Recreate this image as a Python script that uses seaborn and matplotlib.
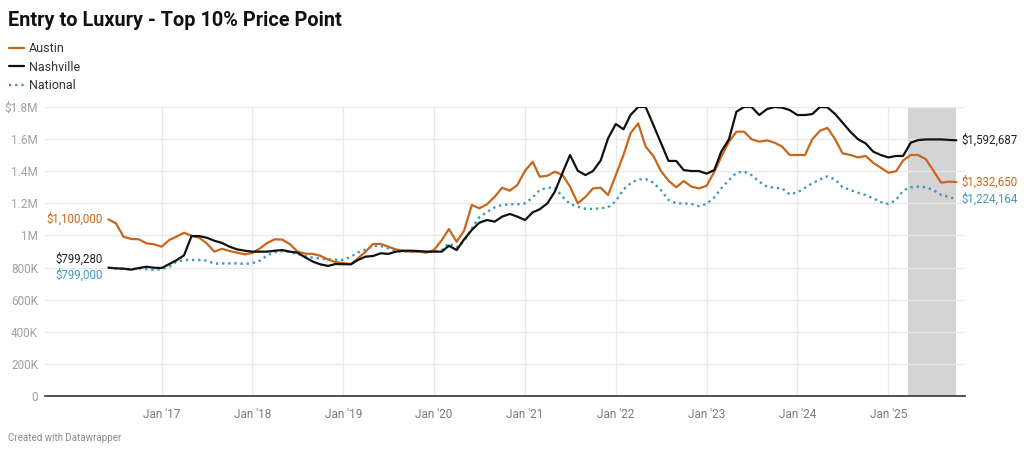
import pandas as pd
import numpy as np
import matplotlib
matplotlib.use('Agg')
import matplotlib.pyplot as plt
import seaborn as sns

# Monthly values (thousands of $), Jun 2016 - Oct 2025
austin = [1100, 1076, 992, 978, 976, 951, 945,
          930, 972, 992, 1017, 998, 986, 951, 899, 917, 903, 893, 882,
          891, 920, 953, 976, 974, 945, 899, 887, 885, 873, 850, 834,
          828, 822, 857, 899, 947, 947, 930, 913, 903, 899, 899, 893,
          910, 970, 1040, 961, 1030, 1190, 1169, 1194, 1241, 1297, 1279, 1314,
          1403, 1459, 1366, 1372, 1397, 1376, 1304, 1200, 1240, 1293, 1297, 1252,
          1376, 1501, 1636, 1698, 1553, 1495, 1403, 1341, 1300, 1339, 1304, 1293,
          1309, 1397, 1490, 1584, 1646, 1646, 1599, 1584, 1592, 1578, 1553, 1501,
          1501, 1501, 1599, 1652, 1670, 1599, 1511, 1501, 1486, 1495, 1453, 1422,
          1391, 1400, 1466, 1501, 1501, 1474, 1403, 1329, 1335, 1332.650]
nashville = [799.280, 795, 793, 787, 797, 805, 799,
             797, 822, 845, 876, 996, 996, 986, 967, 953, 930, 913, 905,
             899, 899, 899, 905, 909, 899, 893, 864, 837, 820, 810, 822,
             821, 820, 847, 868, 872, 889, 885, 899, 905, 905, 903, 899,
             899, 899, 936, 909, 975, 1034, 1079, 1096, 1086, 1117, 1134, 1117,
             1096, 1144, 1163, 1200, 1273, 1391, 1501, 1403, 1376, 1401, 1466, 1605,
             1694, 1661, 1750, 1800, 1800, 1688, 1578, 1464, 1464, 1407, 1401, 1401,
             1385, 1407, 1522, 1599, 1771, 1800, 1800, 1750, 1787, 1800, 1796, 1781,
             1750, 1750, 1756, 1800, 1798, 1756, 1702, 1646, 1599, 1574, 1522, 1501,
             1486, 1495, 1495, 1578, 1594, 1598, 1598, 1598, 1595, 1592.687]
national = [799, 795, 792, 790, 795, 790, 785,
            790, 805, 836, 847, 847, 847, 843, 824, 826, 826, 826, 822,
            828, 843, 876, 896, 902, 897, 884, 871, 862, 856, 852, 849,
            847, 868, 893, 913, 934, 934, 920, 905, 899, 899, 899, 899,
            899, 909, 951, 926, 965, 1044, 1113, 1146, 1175, 1190, 1194, 1194,
            1200, 1237, 1283, 1297, 1297, 1241, 1196, 1179, 1166, 1165, 1169, 1175,
            1214, 1287, 1325, 1349, 1351, 1329, 1283, 1221, 1200, 1200, 1196, 1183,
            1196, 1237, 1293, 1345, 1391, 1397, 1376, 1335, 1304, 1297, 1293, 1256,
            1268, 1297, 1325, 1349, 1368, 1349, 1300, 1283, 1266, 1252, 1231, 1208,
            1196, 1221, 1279, 1300, 1304, 1300, 1283, 1252, 1241, 1224.164]
dates = pd.date_range('2016-06-01', periods=len(austin), freq='MS')

y_ticks = [0, 200e3, 400e3, 600e3, 800e3, 1e6, 1.2e6, 1.4e6, 1.6e6, 1.8e6]
y_labels = ['0', '200K', '400K', '600K', '800K', '1M', '1.2M', '1.4M', '1.6M', '$1.8M']
x_years = list(range(2017, 2026))
x_labels = ["Jan '%02d" % (y % 100) for y in x_years]

c_austin = '#c7661c'
c_nash = '#111111'
c_nat = '#3c9bba'

df = pd.DataFrame({'date': dates,
                   'Austin': np.array(austin) * 1000,
                   'Nashville': np.array(nashville) * 1000,
                   'National': np.array(national) * 1000})

sns.set_style('white')
plt.rcParams['font.family'] = ['Roboto', 'DejaVu Sans']

fig = plt.figure(figsize=(10.24, 4.55), dpi=100)
ax = fig.add_axes([45 / 1024, 59 / 455, 920 / 1024, 289 / 455])

# highlighted range
ax.axvspan(pd.Timestamp('2025-03-20'), dates[-1], color='#d4d4d4', lw=0, zorder=0)

sns.lineplot(data=df, x='date', y='Austin', ax=ax, color=c_austin, lw=1.6, label='Austin', zorder=3)
sns.lineplot(data=df, x='date', y='Nashville', ax=ax, color=c_nash, lw=1.6, label='Nashville', zorder=4)
sns.lineplot(data=df, x='date', y='National', ax=ax, color=c_nat, lw=1.7,
             linestyle=(0, (1, 1.6)), label='National', zorder=2)

ax.set_xlim(pd.Timestamp('2015-09-20'), pd.Timestamp('2025-11-05'))
ax.set_ylim(0, 1.8e6)
ax.set_yticks(y_ticks)
ax.set_yticklabels(y_labels)
ax.set_xticks([pd.Timestamp(f'{y}-01-01') for y in x_years])
ax.set_xticklabels(x_labels)
ax.tick_params(axis='both', length=0, labelsize=8.5, labelcolor='#a0a0a0')
ax.tick_params(axis='x', pad=9, labelcolor='#7a7a7a')
ax.tick_params(axis='y', pad=5)
ax.grid(True, color='#e8e8e8', lw=0.9, zorder=0)
ax.set_axisbelow(True)
for s in ['top', 'right', 'left']:
    ax.spines[s].set_visible(False)
ax.spines['bottom'].set_color('#333333')
ax.spines['bottom'].set_linewidth(1.2)
ax.set_xlabel('')
ax.set_ylabel('')

# start / end labels
fs = 8.3
ax.annotate('$1,100,000', (dates[0], austin[0] * 1000), xytext=(-4, 0), textcoords='offset points',
            ha='right', va='center', color=c_austin, fontsize=fs)
ax.annotate('$799,280', (dates[0], nashville[0] * 1000), xytext=(-4, 6), textcoords='offset points',
            ha='right', va='center', color='#222222', fontsize=fs)
ax.annotate('$799,000', (dates[0], national[0] * 1000), xytext=(-4, -5), textcoords='offset points',
            ha='right', va='center', color=c_nat, fontsize=fs)
ax.annotate('$1,592,687', (dates[-1], nashville[-1] * 1000), xytext=(4, 0), textcoords='offset points',
            ha='left', va='center', color='#222222', fontsize=fs, annotation_clip=False)
ax.annotate('$1,332,650', (dates[-1], austin[-1] * 1000), xytext=(4, 0), textcoords='offset points',
            ha='left', va='center', color=c_austin, fontsize=fs, annotation_clip=False)
ax.annotate('$1,224,164', (dates[-1], national[-1] * 1000), xytext=(4, 0), textcoords='offset points',
            ha='left', va='center', color=c_nat, fontsize=fs, annotation_clip=False)

# legend at top left
ax.legend(loc='upper left', bbox_to_anchor=(0.0, 0.927), bbox_transform=fig.transFigure,
          frameon=False, handlelength=1.2, handletextpad=0.4, labelspacing=0.45,
          fontsize=9, labelcolor='#333333', borderaxespad=0.3)

fig.text(8 / 1024, 1 - 20 / 455, 'Entry to Luxury - Top 10% Price Point', fontsize=14.3,
         fontweight='bold', color='#111111', va='center', ha='left')
fig.text(8 / 1024, 1 - 438 / 455, 'Created with Datawrapper', fontsize=7, color='#8a8a8a',
         va='center', ha='left')

fig.savefig('out.png', dpi=100)
